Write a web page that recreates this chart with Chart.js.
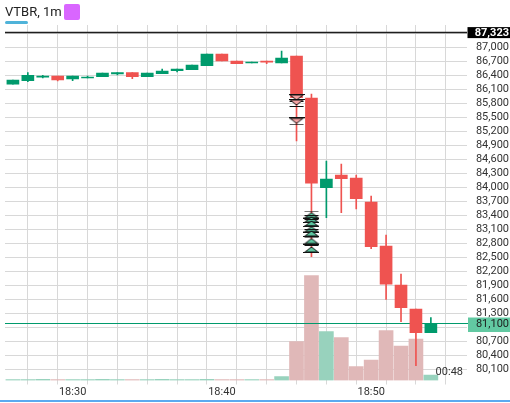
<!DOCTYPE html>
<html><head><meta charset="utf-8">
<script src="https://cdn.jsdelivr.net/npm/chart.js@4/dist/chart.umd.min.js"></script>
<style>
html,body{margin:0;padding:0;background:#fff;}
#wrap{position:relative;width:510px;height:403px;overflow:hidden;background:#fff;}
#c{position:absolute;left:0;top:0;}
#title{position:absolute;left:5px;top:4px;font:13px Roboto, sans-serif;color:#222;line-height:16px;white-space:nowrap;}
#uline{position:absolute;left:5px;top:21px;width:23px;height:3px;border-radius:2px;background:#4fb3d9;}
#sq{position:absolute;left:64px;top:4px;width:16px;height:16px;border-radius:2px;background:#d966ff;}
</style></head>
<body><div id="wrap"><canvas id="c" width="510" height="403"></canvas>
<div id="title">VTBR, 1m</div><div id="uline"></div><div id="sq"></div></div>
<script>
// ---- data ----
const times  = ['18:26','18:27','18:28','18:29','18:30','18:31','18:32','18:33','18:34','18:35','18:36','18:37','18:38','18:39','18:40','18:41','18:42','18:43','18:44','18:45','18:46','18:47','18:48','18:49','18:50','18:51','18:52','18:53','18:54'];
const opens  = [86216,86293,86366,86394,86329,86351,86379,86436,86464,86379,86443,86507,86529,86614,86865,86715,86672,86715,86672,86822,85922,84000,84272,84208,83693,82750,81915,81400,80893];
const highs  = [86308,86464,86409,86394,86394,86394,86458,86464,86464,86458,86544,86544,86629,86865,86865,86715,86694,86715,86929,86822,86008,84572,84508,84272,83822,82986,82150,81400,81214];
const lows   = [86216,86271,86351,86286,86293,86351,86379,86415,86336,86379,86443,86479,86529,86614,86715,86657,86672,86657,86672,85001,82521,83357,83464,83543,82693,81608,81128,80185,80893];
const closes = [86308,86409,86394,86308,86394,86372,86458,86464,86379,86458,86501,86544,86629,86865,86715,86657,86694,86687,86779,85930,84094,84186,84193,83764,82735,81930,81428,80893,81094];
const volumes= [100,90,110,100,90,100,110,100,90,100,110,100,100,110,100,90,100,100,380,3880,10480,4880,4280,1380,2050,4980,3450,4150,550];
const sellTime = '18:45';
const sellPrices = [85922,85815,85423];
const buyTime = '18:46';
const buyPrices = [83425,83329,83243,83125,83029,82868,82686];
const lastPrice = 81100;
const sessionHigh = 87323;
const countdown = '00:48';
const yTickValues = [80100,80400,80700,81000,81300,81600,81900,82200,82500,82800,83100,83400,83700,84000,84300,84600,84900,85200,85500,85800,86100,86400,86700,87000,87300];
const xTickLabels = ['18:30','18:40','18:50'];

// ---- helpers ----
const toMin = s => { const [h,m] = s.split(':').map(Number); return (h-18)*60 + m; };
const fmt = v => v.toLocaleString('en-US');
const GREEN = '#009a6c', RED = '#ef5350';
const VOL_G = '#98d2bd', VOL_R = '#e0b8b8';

function markerCanvas(down){
  const c = document.createElement('canvas'); c.width = 16; c.height = 8;
  const x = c.getContext('2d');
  x.lineWidth = 1; x.strokeStyle = '#111';
  x.fillStyle = down ? '#f5a3a3' : '#5cc6a0';
  x.beginPath();
  if (down){ x.moveTo(1.5,1); x.lineTo(14.5,1); x.lineTo(8,6); }
  else { x.moveTo(1.5,7); x.lineTo(14.5,7); x.lineTo(8,2); }
  x.closePath(); x.fill(); x.stroke();
  x.beginPath();
  if (down){ x.moveTo(0,0.5); x.lineTo(16,0.5); x.moveTo(1,7.5); x.lineTo(15,7.5); }
  else { x.moveTo(1,0.5); x.lineTo(15,0.5); x.moveTo(0,7.5); x.lineTo(16,7.5); }
  x.stroke();
  return c;
}

const xs = times.map(toMin);
const up = xs.map((_,i)=> closes[i] >= opens[i]);

const bodyData = xs.map((m,i)=>({x:m, y:[opens[i], closes[i]]}));
const wickData = xs.map((m,i)=>({x:m, y:[lows[i], highs[i]]}));
const volData  = xs.map((m,i)=>({x:m, y:volumes[i]}));
const sellData = sellPrices.map(p=>({x:toMin(sellTime), y:p}));
const buyData  = buyPrices.map(p=>({x:toMin(buyTime), y:p}));
const xLabelMap = {}; xTickLabels.forEach(l=>{ xLabelMap[toMin(l)] = l; });

const VOL_INDEX = 0;
const TICK_FONT = {family:'Roboto, "Liberation Sans", sans-serif', size:11};

const overlay = {
  id:'overlay',
  afterDatasetDraw(chart, args){
    if (args.index !== VOL_INDEX) return;
    const y = chart.scales.y, ca = chart.chartArea, ctx = chart.ctx;
    ctx.save();
    let py = y.getPixelForValue(sessionHigh);
    ctx.strokeStyle = '#1e1e1e'; ctx.lineWidth = 1.5;
    ctx.beginPath(); ctx.moveTo(ca.left, py); ctx.lineTo(ca.right+3, py); ctx.stroke();
    py = Math.round(y.getPixelForValue(lastPrice)) + 0.5;
    ctx.strokeStyle = GREEN; ctx.lineWidth = 1;
    ctx.beginPath(); ctx.moveTo(ca.left, py); ctx.lineTo(ca.right+4, py); ctx.stroke();
    ctx.restore();
  },
  afterDraw(chart){
    const y = chart.scales.y, ca = chart.chartArea, ctx = chart.ctx;
    const W = chart.width;
    ctx.save();
    ctx.font = '11px Roboto, "Liberation Sans", sans-serif';
    ctx.textAlign = 'right'; ctx.textBaseline = 'middle';
    // session high box
    let py = y.getPixelForValue(sessionHigh);
    ctx.fillStyle = '#000';
    ctx.fillRect(ca.right+3.5, py-5.5, W-(ca.right+3.5), 11);
    ctx.fillStyle = '#fff'; ctx.font = 'bold 11px Roboto, "Liberation Sans", sans-serif';
    ctx.fillText(fmt(sessionHigh), W-1, py+0.5);
    // last price box
    py = y.getPixelForValue(lastPrice);
    ctx.fillStyle = '#62c9a2';
    ctx.fillRect(ca.right+4, py-5.5, W-(ca.right+4), 14.5);
    ctx.fillStyle = '#1c1c1c'; ctx.font = '11px Roboto, "Liberation Sans", sans-serif';
    ctx.fillText(fmt(lastPrice), W-1, py+1.5);
    // countdown
    ctx.fillStyle = '#333';
    ctx.fillText(countdown, ca.right-1, ca.bottom-8);
    // bottom blue bar
    ctx.fillStyle = '#5aaaf0';
    ctx.fillRect(0, chart.height-3, W, 2);
    ctx.restore();
  }
};

new Chart(document.getElementById('c'), {
  type:'bar',
  data:{ datasets:[
    {type:'bar', label:'volume', data:volData, yAxisID:'yv', grouped:false, barThickness:14,
     backgroundColor: up.map(u=>u?VOL_G:VOL_R), order:4, borderWidth:0},
    {type:'bar', label:'wick', data:wickData, yAxisID:'y', grouped:false, barThickness:1,
     backgroundColor: up.map(u=>u?GREEN:RED), order:3, borderWidth:0},
    {type:'bar', label:'body', data:bodyData, yAxisID:'y', grouped:false, barThickness:12, minBarLength:1,
     backgroundColor: up.map(u=>u?GREEN:RED), order:2, borderWidth:0},
    {type:'scatter', label:'sell', data:sellData, yAxisID:'y', pointStyle:markerCanvas(true), order:1},
    {type:'scatter', label:'buy', data:buyData, yAxisID:'y', pointStyle:markerCanvas(false), order:0}
  ]},
  options:{
    responsive:false, animation:false, devicePixelRatio:1,
    layout:{padding:{top:25, left:0, right:1, bottom:0}},
    plugins:{legend:{display:false}, tooltip:{enabled:false}},
    scales:{
      x:{type:'linear', position:'bottom', min:25.47, max:56.22, offset:false,
         grid:{color:'#d8d8d8', lineWidth:1, tickLength:4, drawTicks:true},
         border:{display:false},
         afterBuildTicks(s){ const t=[]; for(let v=26; v<=56; v+=2) t.push({value:v}); s.ticks=t; },
         afterFit(s){ s.height = 22.5; },
         ticks:{autoSkip:false, maxRotation:0, padding:1.5, color:'#333', font:TICK_FONT,
                callback:(v)=> xLabelMap[v] || ''}},
      y:{type:'linear', position:'right', min:79868, max:87486,
         grid:{color:'#d8d8d8', lineWidth:1, tickLength:3},
         border:{display:false},
         afterBuildTicks(s){ s.ticks = yTickValues.map(v=>({value:v})); },
         afterFit(s){ s.width = 45; },
         ticks:{autoSkip:false, crossAlign:'far', padding:2, color:'#333', font:TICK_FONT, callback:(v)=>fmt(v)}},
      yv:{type:'linear', display:false, min:0, max:35550}
    }
  },
  plugins:[overlay]
});
</script>
</body></html>
